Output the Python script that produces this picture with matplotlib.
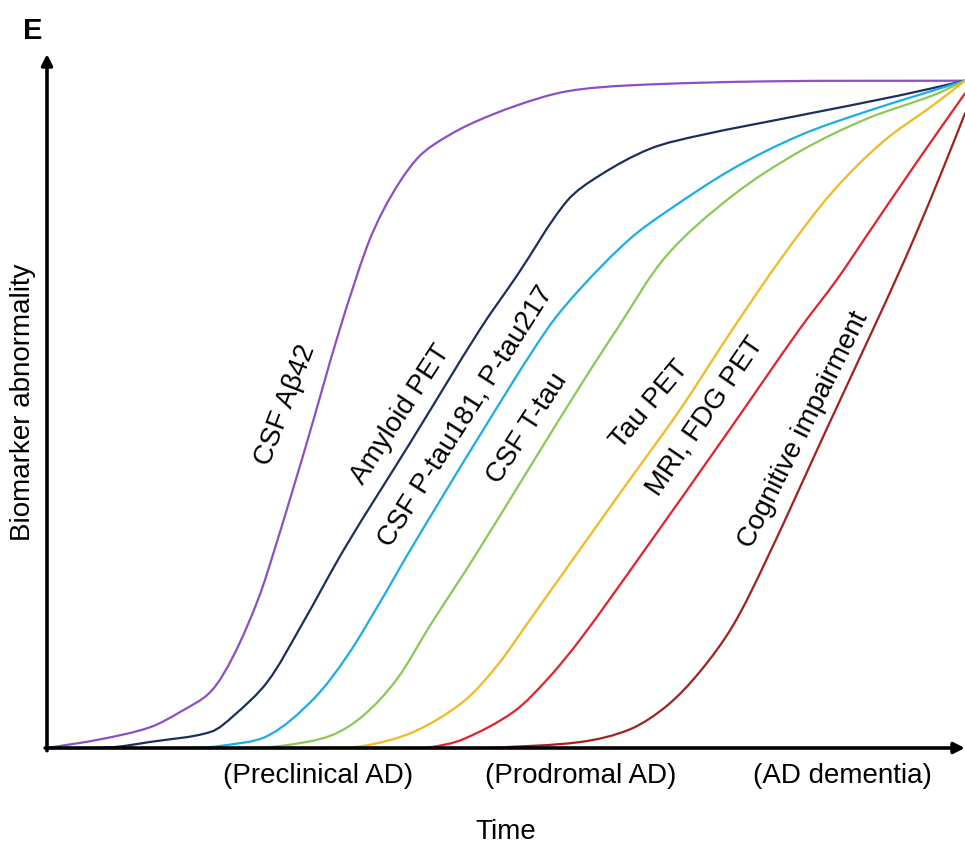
import matplotlib
matplotlib.use('Agg')
import numpy as np
import matplotlib.pyplot as plt
from matplotlib.path import Path
from matplotlib.patches import PathPatch

plt.rcParams['font.family'] = ['Liberation Sans', 'DejaVu Sans']

# time (0-100) and abnormality (0-100)
abeta_x = [0, 5.8, 11.2, 14.5, 17.8, 20.3, 23.0, 24.8, 28.1, 31.9, 34.9, 36.6, 38.5, 40.3, 42.0, 45.8, 51.2, 56.6, 63.5, 78.4, 100]
abeta_y = [0, 1.3, 3.1, 5.4, 8.4, 13.8, 22.3, 29.8, 44.8, 62.8, 75.3, 80.5, 85.0, 88.3, 90.3, 93.3, 96.3, 98.4, 99.3, 99.9, 100]

amyloid_x = [0, 6.9, 11.2, 17.8, 20.3, 24.0, 27.6, 32.5, 39.5, 47.2, 51.2, 56.6, 60.2, 65.7, 71.1, 82.0, 92.9, 100]
amyloid_y = [0, 0.1, 0.9, 2.4, 4.8, 9.9, 18.1, 30.1, 45.6, 62.8, 70.8, 81.9, 85.8, 89.8, 91.8, 94.8, 97.8, 100]

ptau_x = [15.6, 18.8, 24.0, 29.0, 32.7, 36.3, 39.5, 46.9, 54.5, 58.4, 63.5, 67.5, 74.7, 82.0, 89.3, 100]
ptau_y = [0, 0.3, 1.8, 7.3, 13.8, 21.9, 29.5, 46.3, 62.8, 69.3, 76.3, 80.4, 86.8, 91.8, 95.4, 100]

ttau_x = [21.0, 25.4, 30.8, 34.4, 38.1, 41.7, 46.4, 52.6, 58.1, 62.1, 67.5, 74.7, 82.0, 89.3, 96.5, 100]
ttau_y = [0, 0.3, 1.8, 4.8, 10.3, 18.3, 28.3, 42.1, 54.3, 62.8, 73.8, 82.8, 89.4, 94.3, 97.8, 100]

taupet_x = [29.7, 34.4, 39.9, 45.3, 49.0, 52.6, 57.3, 63.0, 69.0, 74.7, 80.2, 85.6, 91.1, 96.5, 100]
taupet_y = [0, 0.3, 2.4, 6.9, 12.3, 19.2, 28.3, 39.3, 50.8, 62.8, 73.8, 83.4, 90.9, 96.3, 100]

mri_x = [39.5, 41.7, 45.3, 50.8, 54.5, 58.1, 64.4, 74.4, 82.0, 86.1, 89.3, 94.8, 100]
mri_y = [0, 0.1, 1.3, 5.4, 10.3, 16.3, 28.3, 47.8, 62.8, 70.3, 76.8, 87.9, 98.1]

cog_x = [48.3, 58.1, 63.5, 67.5, 71.1, 74.7, 78.4, 85.3, 90.0, 92.4, 94.8, 97.6, 100]
cog_y = [0, 0.9, 2.8, 6.3, 11.4, 18.3, 28.3, 48.9, 62.8, 70.0, 77.5, 86.8, 95.1]

curves = [
    (abeta_x, abeta_y, '#8b4fc6'),
    (amyloid_x, amyloid_y, '#1c2e5e'),
    (ptau_x, ptau_y, '#1aaee6'),
    (ttau_x, ttau_y, '#8dc755'),
    (taupet_x, taupet_y, '#f6b91d'),
    (mri_x, mri_y, '#e8202a'),
    (cog_x, cog_y, '#a3201f'),
]

# curve labels: text, x, y, rotation
labels = [
    ('CSF A\u03b242', 26.0, 51.6, 69),
    ('Amyloid PET', 38.5, 50.1, 57),
    ('CSF P-tau181, P-tau217', 45.6, 49.9, 57.5),
    ('CSF T-tau', 52.3, 48.1, 57),
    ('Tau PET', 65.7, 51.6, 50),
    ('MRI, FDG PET', 71.7, 49.8, 55.5),
    ('Cognitive impairment', 82.4, 47.8, 63.4),
]

stage_pos = [29.5, 58.1, 86.6]
stage_names = ['(Preclinical AD)', '(Prodromal AD)', '(AD dementia)']


def smooth_path(ax, xs, ys):
    # smooth curve through the points: cubic Bezier pieces whose handles follow
    # the neighbouring points, scaled by chord length in screen space
    pts = ax.transData.transform(np.column_stack([xs, ys]))
    n = len(pts)
    d = np.hypot(*np.diff(pts, axis=0).T)
    tang = np.zeros_like(pts)
    tang[0] = (pts[1] - pts[0]) / d[0]
    tang[-1] = (pts[-1] - pts[-2]) / d[-1]
    for i in range(1, n - 1):
        tang[i] = (pts[i + 1] - pts[i - 1]) / (d[i - 1] + d[i])
    verts = [pts[0]]
    codes = [Path.MOVETO]
    for i in range(n - 1):
        verts += [pts[i] + tang[i] * d[i] / 3, pts[i + 1] - tang[i + 1] * d[i] / 3, pts[i + 1]]
        codes += [Path.CURVE4] * 3
    return Path(ax.transData.inverted().transform(np.array(verts)), codes)


fig = plt.figure(figsize=(9.65, 8.45), dpi=100)
ax = fig.add_axes([47 / 965, 96 / 845, 918 / 965, 694 / 845])
ax.set_xlim(0, 100)
ax.set_ylim(0, 104)

for xs, ys, c in curves:
    ax.add_patch(PathPatch(smooth_path(ax, xs, ys), facecolor='none', edgecolor=c,
                           lw=1.6, capstyle='round', clip_on=False))

for text, x, y, rot in labels:
    ax.text(x, y, text, rotation=rot, rotation_mode='anchor', ha='center', va='center',
            fontsize=20)

# axes drawn as arrows
for spine in ax.spines.values():
    spine.set_visible(False)
ax.annotate('', xy=(0, 104), xytext=(0, -0.4), annotation_clip=False,
            arrowprops=dict(arrowstyle='-|>', lw=2.6, color='black', mutation_scale=16,
                            shrinkA=0, shrinkB=0))
ax.annotate('', xy=(100, 0), xytext=(-0.2, 0), annotation_clip=False,
            arrowprops=dict(arrowstyle='-|>', lw=2.6, color='black', mutation_scale=16,
                            shrinkA=0, shrinkB=0))

ax.set_xticks(stage_pos)
ax.set_xticklabels(stage_names, fontsize=20)
ax.tick_params(axis='x', length=0, pad=10)
ax.set_yticks([])
ax.set_xlabel('Time', fontsize=20, labelpad=22)
ax.set_ylabel('Biomarker abnormality', fontsize=20, labelpad=8)

fig.text(33 / 965, 1 - 31 / 845, 'E', fontsize=21, fontweight='bold', ha='center', va='center')

fig.savefig('out.png', dpi=100)
